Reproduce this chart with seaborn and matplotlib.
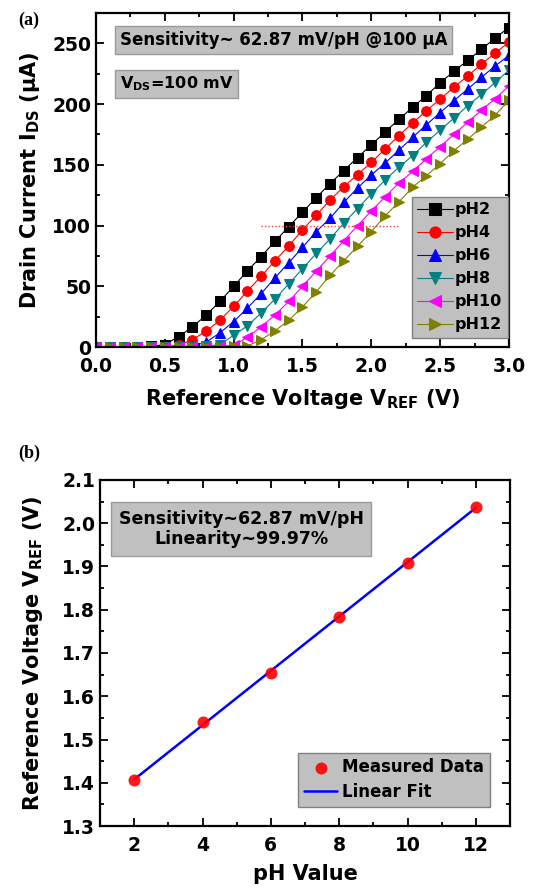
import numpy as np
import pandas as pd
import matplotlib
matplotlib.use("Agg")
import matplotlib.pyplot as plt
import seaborn as sns
from matplotlib.ticker import MultipleLocator, FormatStrFormatter

# ---------------- data ----------------
v_ref = [round(0.1 * i, 1) for i in range(31)]

i_ph2 = [0.3, 0.3, 0.3, 0.4, 0.5, 2.0, 8.5, 16.5, 26.3, 37.5, 50.0, 62.7, 74.5, 87.0, 99.0, 111.0,
         123.0, 134.5, 145.3, 156.0, 166.5, 176.8, 187.5, 197.3, 207.0, 217.5, 227.0, 236.0, 245.0, 254.5, 263.0]
i_ph4 = [0.3, 0.3, 0.3, 0.3, 0.3, 0.4, 1.5, 6.0, 13.0, 22.0, 33.5, 46.0, 58.3, 71.0, 83.2, 96.5,
         108.5, 121.0, 132.0, 142.0, 152.0, 163.0, 174.0, 184.4, 194.6, 204.0, 214.0, 223.0, 233.0, 242.0, 251.0]
i_ph6 = [0.3, 0.3, 0.3, 0.3, 0.3, 0.3, 0.4, 0.8, 4.0, 11.7, 21.0, 32.0, 44.0, 57.0, 69.4, 82.0,
         95.0, 106.0, 119.0, 131.0, 141.6, 151.5, 162.0, 172.6, 183.0, 193.0, 202.8, 212.4, 222.0, 231.5, 240.0]
i_ph8 = [0.3, 0.3, 0.3, 0.3, 0.3, 0.3, 0.3, 0.4, 0.6, 2.0, 9.7, 17.5, 28.0, 39.4, 52.0, 64.4,
         77.0, 89.0, 102.0, 114.0, 126.0, 137.5, 148.0, 157.6, 168.5, 178.5, 188.4, 198.7, 208.0, 217.8, 228.0]
i_ph10 = [0.3, 0.3, 0.3, 0.3, 0.3, 0.3, 0.3, 0.3, 0.4, 0.5, 1.5, 8.0, 16.7, 26.4, 37.5, 50.0,
          62.5, 75.0, 87.5, 100.0, 112.0, 123.6, 135.0, 144.5, 155.0, 165.0, 175.0, 185.0, 195.0, 204.5, 215.0]
i_ph12 = [0.3, 0.3, 0.3, 0.3, 0.3, 0.3, 0.3, 0.3, 0.3, 0.4, 0.5, 0.8, 6.0, 13.3, 22.0, 33.0,
          45.5, 59.0, 71.0, 83.0, 95.0, 108.0, 119.4, 131.6, 141.0, 151.0, 161.7, 171.0, 181.0, 191.0, 203.0]

series_labels = ["pH2", "pH4", "pH6", "pH8", "pH10", "pH12"]
series_values = [i_ph2, i_ph4, i_ph6, i_ph8, i_ph10, i_ph12]

ph_values = [2, 4, 6, 8, 10, 12]
v_ref_measured = [1.406, 1.540, 1.654, 1.783, 1.909, 2.038]

# ---------------- style ----------------
sns.set_theme(style="white")
plt.rcParams["font.family"] = ["DejaVu Sans"]
plt.rcParams["font.weight"] = "bold"
plt.rcParams["mathtext.fontset"] = "dejavusans"
plt.rcParams["mathtext.default"] = "bf"
plt.rcParams["text.color"] = "black"
plt.rcParams["axes.labelcolor"] = "black"
plt.rcParams["xtick.color"] = "black"
plt.rcParams["ytick.color"] = "black"

colors = ["#000000", "#ff0000", "#0000ff", "#008080", "#ff00ff", "#808000"]
markers = ["s", "o", "^", "v", "<", ">"]

fig = plt.figure(figsize=(5.38, 8.88), dpi=100)
ax_a = fig.add_axes([0.1784, 0.6092, 0.7677, 0.3762])
ax_b = fig.add_axes([0.1859, 0.0698, 0.7621, 0.3897])

TICK_FS = 13.5
LABEL_FS = 15
LEG_FS = 11.5


def style_axes(ax):
    for s in ax.spines.values():
        s.set_linewidth(1.6)
        s.set_color("black")
        s.set_visible(True)
    ax.tick_params(which="both", direction="in", top=True, right=True, bottom=True, left=True,
                   width=1.3, colors="black", labelsize=TICK_FS)
    ax.tick_params(which="major", length=5.5)
    ax.tick_params(which="minor", length=3)
    ax.tick_params(axis="x", which="major", pad=7)
    for lab in ax.get_xticklabels() + ax.get_yticklabels():
        lab.set_fontweight("bold")


# ---------------- panel (a) ----------------
df_a = pd.DataFrame({
    "V": v_ref * len(series_labels),
    "I": sum(series_values, []),
    "pH": sum([[lab] * len(v_ref) for lab in series_labels], []),
})
for lab, col, mk in zip(series_labels, colors, markers):
    sub = df_a[df_a["pH"] == lab]
    sns.lineplot(data=sub, x="V", y="I", ax=ax_a, color=col, marker=mk, markersize=7,
                 markeredgecolor=col, linewidth=0.8, label=lab, clip_on=True)

ax_a.hlines(100, 1.2, 2.2, colors="#ff4040", linestyles=(0, (1, 1.5)), linewidth=1.0)
ax_a.set_xlim(0, 3.0)
ax_a.set_ylim(0, 275)
ax_a.xaxis.set_major_locator(MultipleLocator(0.5))
ax_a.xaxis.set_minor_locator(MultipleLocator(0.25))
ax_a.yaxis.set_major_locator(MultipleLocator(50))
ax_a.yaxis.set_minor_locator(MultipleLocator(25))
ax_a.xaxis.set_major_formatter(FormatStrFormatter("%.1f"))
ax_a.set_xlabel(r"Reference Voltage V$_{REF}$ (V)", fontsize=LABEL_FS, fontweight="bold", labelpad=8)
ax_a.set_ylabel(r"Drain Current I$_{DS}$ (μA)", fontsize=LABEL_FS, fontweight="bold", labelpad=7)
style_axes(ax_a)

leg_a = ax_a.legend(loc="lower right", bbox_to_anchor=(0.997, 0.027), borderaxespad=0,
                    frameon=True, fancybox=False, framealpha=1, facecolor="#c0c0c0",
                    edgecolor="#808080", prop={"weight": "bold", "size": LEG_FS},
                    handlelength=2.2, handletextpad=0.15, labelspacing=0.5, borderpad=0.35,
                    markerscale=1.15)
leg_a.get_frame().set_linewidth(1.0)

box_kw = dict(boxstyle="square,pad=0.3", facecolor="#c0c0c0", edgecolor="#9a9a9a", linewidth=1.0)
ax_a.text(0.057, 0.918, "Sensitivity~ 62.87 mV/pH @100 μA", transform=ax_a.transAxes,
          fontsize=12, fontweight="bold", va="center", ha="left", bbox=box_kw)
ax_a.text(0.057, 0.787, r"V$_{DS}$=100 mV", transform=ax_a.transAxes,
          fontsize=11.5, fontweight="bold", va="center", ha="left", bbox=box_kw)

# ---------------- panel (b) ----------------
df_b = pd.DataFrame({"pH": ph_values, "V": v_ref_measured})
slope, intercept = np.polyfit(ph_values, v_ref_measured, 1)
df_fit = pd.DataFrame({"pH": ph_values, "V": [slope * p + intercept for p in ph_values]})

sns.lineplot(data=df_fit, x="pH", y="V", ax=ax_b, color="#0000ff", linewidth=1.8,
             label="Linear Fit", zorder=2)
sns.scatterplot(data=df_b, x="pH", y="V", ax=ax_b, color="#ff0000", s=75, edgecolor="#ff0000",
                linewidth=0, label="Measured Data", zorder=3, alpha=0.9)

ax_b.set_xlim(1, 13)
ax_b.set_ylim(1.3, 2.1)
ax_b.xaxis.set_major_locator(MultipleLocator(2))
ax_b.xaxis.set_minor_locator(MultipleLocator(1))
ax_b.set_xticks(ph_values)
ax_b.yaxis.set_major_locator(MultipleLocator(0.1))
ax_b.yaxis.set_minor_locator(MultipleLocator(0.05))
ax_b.yaxis.set_major_formatter(FormatStrFormatter("%.1f"))
ax_b.set_xlabel("pH Value", fontsize=LABEL_FS, fontweight="bold", labelpad=7)
ax_b.set_ylabel(r"Reference Voltage V$_{REF}$ (V)", fontsize=LABEL_FS, fontweight="bold", labelpad=12)
style_axes(ax_b)

handles, labels = ax_b.get_legend_handles_labels()
order = [labels.index("Measured Data"), labels.index("Linear Fit")]
leg_b = ax_b.legend([handles[i] for i in order], [labels[i] for i in order],
                    loc="lower right", bbox_to_anchor=(0.951, 0.055), borderaxespad=0,
                    frameon=True, fancybox=False, framealpha=1, facecolor="#c0c0c0",
                    edgecolor="#808080", prop={"weight": "bold", "size": 12},
                    handlelength=2.0, handletextpad=0.3, labelspacing=0.4, borderpad=0.35)
leg_b.get_frame().set_linewidth(1.0)

ax_b.text(0.344, 0.858, "Sensitivity~62.87 mV/pH\nLinearity~99.97%", transform=ax_b.transAxes,
          fontsize=12.5, fontweight="bold", va="center", ha="center", linespacing=1.15,
          bbox=dict(boxstyle="square,pad=0.45", facecolor="#c0c0c0", edgecolor="#9a9a9a", linewidth=1.0))

# panel letters
fig.text(18 / 538, 1 - 20 / 888, "(a)", fontsize=13, fontweight="bold", family="Liberation Serif",
         ha="left", va="center")
fig.text(18 / 538, 1 - 453 / 888, "(b)", fontsize=13, fontweight="bold", family="Liberation Serif",
         ha="left", va="center")

fig.savefig("out.png", dpi=100)
